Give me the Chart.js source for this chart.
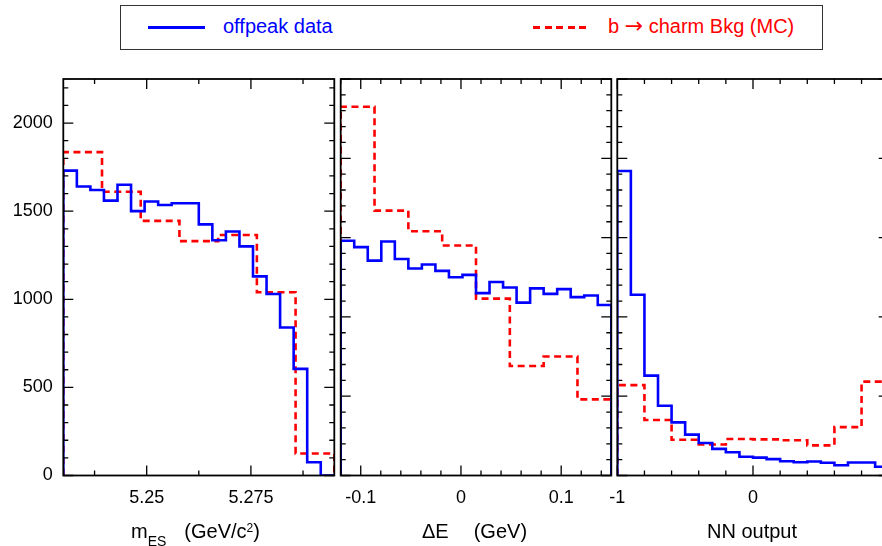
<!DOCTYPE html>
<html>
<head>
<meta charset="utf-8">
<script src="https://cdn.jsdelivr.net/npm/chart.js@4.4.0/dist/chart.umd.min.js"></script>
<style>
  html, body { margin: 0; padding: 0; width: 882px; height: 546px; overflow: hidden; background: #fff;
    font-family: 'Liberation Sans', Arial, sans-serif; }
  canvas { position: absolute; top: 0; }
  .txt { position: absolute; font-size: 20px; line-height: 20px; white-space: nowrap; color: #000; }
  .sub { font-size: 14px; position: relative; top: 8px; }
  .sup { font-size: 12px; position: relative; top: -6px; }
  .arrow { font-family: 'DejaVu Sans', sans-serif; font-size: 22px; }
</style>
</head>
<body>
<!-- legend box -->
<div style="position:absolute;left:120px;top:5px;width:703px;height:45px;box-sizing:border-box;border:1.5px solid #333;"></div>
<div style="position:absolute;left:148px;top:26px;width:57px;height:3px;background:#0000ff;"></div>
<div class="txt" style="left:223px;top:16px;color:#0000ff;">offpeak data</div>
<div style="position:absolute;left:533px;top:26px;width:54px;height:3px;
  background:repeating-linear-gradient(to right,#ff0000 0 7px,transparent 7px 11.6px);"></div>
<div class="txt" style="left:608px;top:16px;color:#ff0000;">b <span class="arrow">&rarr;</span> charm Bkg (MC)</div>

<canvas id="c1" width="345" height="546" style="left:0px"></canvas>
<canvas id="c2" width="310" height="546" style="left:310px"></canvas>
<canvas id="c3" width="320" height="546" style="left:582px"></canvas>

<!-- axis titles -->
<div class="txt" style="left:131px;top:521px;">m<span class="sub">ES</span><span style="margin-left:18px">(GeV/c<span class="sup">2</span>)</span></div>
<div class="txt" style="left:422px;top:521px;">&Delta;E<span style="margin-left:25px">(GeV)</span></div>
<div class="txt" style="left:707px;top:521px;">NN output</div>

<script>
// axis ranges
const mesRange = [5.23, 5.295];
const deRange = [-0.12, 0.15];
const nnRange = [-1, 1];

// m_ES histograms
const mesOffpeak = [1730, 1640, 1620, 1560, 1650, 1500, 1555, 1535, 1545, 1545,
                    1425, 1335, 1385, 1300, 1130, 1030, 840, 605, 75, 0];
const mesCharm = [1835, 1610, 1445, 1330, 1365, 1040, 125];

// Delta E histograms
const deOffpeak = [1480, 1440, 1355, 1475, 1365, 1305, 1330, 1290, 1250, 1265,
                   1150, 1220, 1185, 1090, 1180, 1145, 1175, 1125, 1135, 1075];
const deCharm = [2325, 1670, 1540, 1450, 1115, 690, 750, 480];

// NN output histograms
const nnOffpeak = [1920, 1140, 630, 440, 335, 258, 205, 168, 147, 118,
                   113, 103, 90, 84, 88, 80, 65, 82, 82, 55];
const nnCharm = [570, 350, 225, 195, 230, 228, 222, 190, 305, 592];

// tick labels
const mesTicks = [5.25, 5.275];
const deTicks = [-0.1, 0, 0.1];
const nnTicks = [-1, 0];
const countTicks = [0, 500, 1000, 1500, 2000];

const FONT = 'Liberation Sans';

// histogram outline: corners at each bin edge
function histPoints(range, vals) {
  const w = (range[1] - range[0]) / vals.length;
  const pts = [{ x: range[0], y: 0 }];
  vals.forEach((v, i) => {
    pts.push({ x: range[0] + i * w, y: v });
    pts.push({ x: range[0] + (i + 1) * w, y: v });
  });
  pts.push({ x: range[1], y: 0 });
  return pts;
}

// frame + inward ticks on all four sides
const frameTicks = {
  id: 'frameTicks',
  afterDatasetsDraw(chart, args, opts) {
    const { ctx, chartArea: a, scales: { x, y } } = chart;
    const marks = (scale, minor, major, cb) => {
      const lo = Math.ceil(scale.min / minor - 1e-6), hi = Math.floor(scale.max / minor + 1e-6);
      for (let i = lo; i <= hi; i++) {
        const v = i * minor;
        const isMajor = Math.abs(v / major - Math.round(v / major)) < 1e-6;
        cb(scale.getPixelForValue(v), isMajor ? 10 : 5);
      }
    };
    ctx.save();
    ctx.strokeStyle = '#000';
    ctx.lineWidth = 1.3;
    ctx.beginPath();
    marks(x, opts.xMinor, opts.xMajor, (px, len) => {
      ctx.moveTo(px, a.bottom); ctx.lineTo(px, a.bottom - len);
      ctx.moveTo(px, a.top); ctx.lineTo(px, a.top + len);
    });
    marks(y, opts.yMinor, opts.yMajor, (py, len) => {
      ctx.moveTo(a.left, py); ctx.lineTo(a.left + len, py);
      ctx.moveTo(a.right, py); ctx.lineTo(a.right - len, py);
    });
    ctx.stroke();
    ctx.lineWidth = 1.8;
    ctx.strokeRect(a.left, a.top, a.right - a.left, a.bottom - a.top);
    ctx.restore();
  }
};

function makePanel(id, range, offpeak, charm, xTicks, xMinor, xMajor, yMax, opt) {
  new Chart(document.getElementById(id), {
    type: 'line',
    data: {
      datasets: [
        {
          label: 'offpeak data',
          data: histPoints(range, offpeak),
          borderColor: '#0000ff',
          borderWidth: 2.6,
          pointRadius: 0,
          tension: 0,
          borderJoinStyle: 'miter',
        },
        {
          label: 'b \u2192 charm Bkg (MC)',
          data: histPoints(range, charm),
          borderColor: '#ff0000',
          borderWidth: 2.6,
          borderDash: [7, 4.5],
          pointRadius: 0,
          tension: 0,
          borderJoinStyle: 'miter',
        },
      ],
    },
    options: {
      responsive: false,
      animation: false,
      layout: { padding: opt.padding },
      plugins: {
        legend: { display: false },
        tooltip: { enabled: false },
        frameTicks: { xMinor: xMinor, xMajor: xMajor, yMinor: 100, yMajor: 500 },
      },
      scales: {
        x: {
          type: 'linear',
          min: range[0],
          max: range[1],
          grid: { display: false, drawTicks: false },
          border: { display: false },
          afterBuildTicks: axis => { axis.ticks = xTicks.map(v => ({ value: v })); },
          afterFit: axis => { axis.height = 70.5; },
          ticks: {
            autoSkip: false,
            maxRotation: 0,
            padding: 12,
            color: '#000',
            font: { family: FONT, size: 18 },
            callback: v => String(v),
          },
        },
        y: {
          display: opt.showY,
          min: 0,
          max: yMax,
          grid: { display: false, drawTicks: false },
          border: { display: false },
          afterBuildTicks: axis => { axis.ticks = countTicks.map(v => ({ value: v })); },
          afterFit: axis => { if (opt.showY) axis.width = 63.3; },
          ticks: {
            padding: 10.5,
            color: '#000',
            font: { family: FONT, size: 18 },
            callback: v => String(v),
          },
        },
      },
    },
    plugins: [frameTicks],
  });
}

makePanel('c1', mesRange, mesOffpeak, mesCharm, mesTicks, 0.0125, 0.025, 2250,
  { showY: true, padding: { left: 0, right: 10.7, top: 79, bottom: 0 } });
makePanel('c2', deRange, deOffpeak, deCharm, deTicks, 0.02, 0.1, 2500,
  { showY: false, padding: { left: 30.7, right: 8.7, top: 79, bottom: 0 } });
makePanel('c3', nnRange, nnOffpeak, nnCharm, nnTicks, 0.2, 1, 2500,
  { showY: false, padding: { left: 35.3, right: 13.3, top: 79, bottom: 0 } });
</script>
</body>
</html>
